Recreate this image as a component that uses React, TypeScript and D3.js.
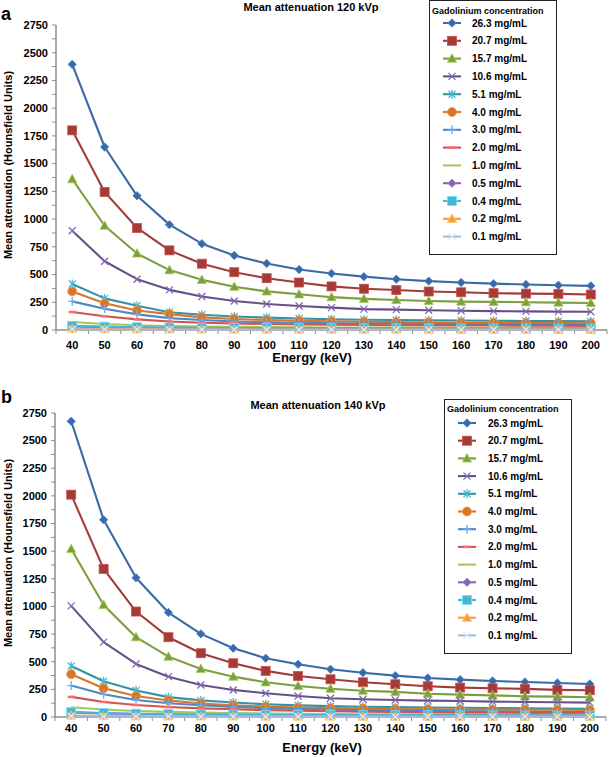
import React from "react";
import * as d3 from "d3";

const energies = [40, 50, 60, 70, 80, 90, 100, 110, 120, 130, 140, 150, 160, 170, 180, 190, 200];
const yTicks = [0, 250, 500, 750, 1000, 1250, 1500, 1750, 2000, 2250, 2500, 2750];
const concentrations = ["26.3 mg/mL", "20.7 mg/mL", "15.7 mg/mL", "10.6 mg/mL", "5.1 mg/mL", "4.0 mg/mL", "3.0 mg/mL", "2.0 mg/mL", "1.0 mg/mL", "0.5 mg/mL", "0.4 mg/mL", "0.2 mg/mL", "0.1 mg/mL"];
const colors = ["#3B69A5", "#A33B39", "#7D9E3F", "#66508A", "#3592A8", "#D4772B", "#4F86C6", "#CF5452", "#A3C760", "#8266AE", "#4BB4D4", "#F99B45", "#A9B9DD"];
const markers = ["diamond", "square", "triangle", "x", "star", "circle", "plus", "dash", "none", "diamond", "square", "triangle", "x"];

// 120 kVp
const a26_3 = [2395, 1650, 1210, 950, 778, 672, 600, 545, 510, 481, 458, 441, 428, 418, 410, 404, 398];
const a20_7 = [1800, 1245, 920, 718, 598, 521, 467, 428, 393, 372, 360, 347, 340, 332, 328, 326, 320];
const a15_7 = [1360, 940, 690, 540, 452, 390, 348, 322, 296, 281, 271, 262, 256, 254, 250, 247, 244];
const a10_6 = [895, 620, 458, 362, 302, 262, 235, 217, 202, 188, 184, 178, 173, 170, 168, 166, 165];
const a5_1 = [415, 285, 218, 160, 138, 122, 112, 104, 97, 93, 90, 87, 85, 83, 81, 80, 78];
const a4_0 = [348, 241, 176, 143, 114, 99, 90, 84, 78, 74, 71, 68, 66, 64, 63, 62, 60];
const a3_0 = [258, 192, 141, 107, 90, 77, 70, 65, 61, 58, 56, 54, 52, 51, 50, 49, 48];
const a2_0 = [162, 124, 96, 76, 66, 59, 54, 50, 47, 45, 43, 42, 41, 40, 39, 38, 37];
const a1_0 = [72, 54, 43, 36, 31, 28, 26, 24, 23, 22, 21, 20, 20, 19, 19, 18, 18];
const a0_5 = [32, 26, 22, 19, 17, 15, 14, 13, 13, 12, 12, 11, 11, 11, 10, 10, 10];
const a0_4 = [38, 30, 25, 22, 20, 18, 17, 16, 15, 15, 14, 14, 13, 13, 13, 12, 12];
const a0_2 = [10, 8, 6, 5, 5, 4, 4, 4, 3, 3, 3, 3, 3, 3, 3, 3, 3];
const a0_1 = [6, 5, 4, 3, 3, 3, 2, 2, 2, 2, 2, 2, 2, 2, 2, 2, 2];

// 140 kVp
const b26_3 = [2675, 1784, 1259, 945, 752, 622, 532, 477, 432, 401, 374, 353, 338, 326, 317, 308, 299];
const b20_7 = [2011, 1340, 954, 722, 577, 486, 417, 371, 341, 314, 296, 278, 266, 260, 254, 245, 242];
const b15_7 = [1520, 1014, 722, 546, 435, 365, 314, 281, 256, 238, 227, 211, 202, 196, 187, 184, 178];
const b10_6 = [1005, 677, 480, 365, 290, 245, 215, 190, 169, 160, 154, 148, 145, 139, 136, 133, 130];
const b5_1 = [462, 324, 240, 180, 150, 131, 115, 105, 98, 93, 89, 86, 83, 81, 79, 77, 75];
const b4_0 = [387, 260, 190, 150, 122, 106, 94, 86, 80, 76, 73, 70, 68, 67, 66, 65, 64];
const b3_0 = [284, 205, 154, 124, 106, 92, 80, 72, 66, 62, 58, 55, 52, 50, 48, 47, 45];
const b2_0 = [182, 136, 108, 90, 78, 70, 62, 56, 52, 48, 45, 42, 40, 39, 37, 36, 35];
const b1_0 = [88, 68, 54, 46, 40, 35, 32, 29, 27, 25, 24, 23, 22, 21, 20, 20, 19];
const b0_5 = [42, 33, 27, 23, 20, 18, 17, 16, 15, 14, 13, 13, 12, 12, 11, 11, 11];
const b0_4 = [45, 36, 30, 26, 23, 21, 19, 18, 17, 16, 15, 15, 14, 14, 13, 13, 13];
const b0_2 = [12, 9, 7, 6, 5, 5, 4, 4, 4, 3, 3, 3, 3, 3, 3, 3, 3];
const b0_1 = [7, 5, 4, 4, 3, 3, 3, 2, 2, 2, 2, 2, 2, 2, 2, 2, 2];

const seriesA = [a26_3, a20_7, a15_7, a10_6, a5_1, a4_0, a3_0, a2_0, a1_0, a0_5, a0_4, a0_2, a0_1];
const seriesB = [b26_3, b20_7, b15_7, b10_6, b5_1, b4_0, b3_0, b2_0, b1_0, b0_5, b0_4, b0_2, b0_1];

const FONT = "'Liberation Sans', Arial, Helvetica, sans-serif";

function Marker({ type, x, y, color }: { type: string; x: number; y: number; color: string }) {
  const light = d3.color(color)!.brighter(0.7).formatHex();
  switch (type) {
    case "diamond":
      return <path d={`M${x},${y - 4.2}L${x + 4.2},${y}L${x},${y + 4.2}L${x - 4.2},${y}Z`} fill={color} stroke={light} strokeWidth={0.8} />;
    case "square":
      return <rect x={x - 4.5} y={y - 4.5} width={9} height={9} fill={color} stroke={light} strokeWidth={0.8} />;
    case "triangle":
      return <path d={`M${x},${y - 4.8}L${x + 4.6},${y + 3.6}L${x - 4.6},${y + 3.6}Z`} fill={color} stroke={light} strokeWidth={0.8} />;
    case "circle":
      return <circle cx={x} cy={y} r={4.5} fill={color} stroke={light} strokeWidth={0.8} />;
    case "x":
      return <path d={`M${x - 3.5},${y - 3.5}L${x + 3.5},${y + 3.5}M${x - 3.5},${y + 3.5}L${x + 3.5},${y - 3.5}`} stroke={light} strokeWidth={1.3} fill="none" />;
    case "star":
      return <path d={`M${x - 3.5},${y - 3.5}L${x + 3.5},${y + 3.5}M${x - 3.5},${y + 3.5}L${x + 3.5},${y - 3.5}M${x},${y - 4.5}L${x},${y + 4.5}`} stroke={light} strokeWidth={1.3} fill="none" />;
    case "plus":
      return <path d={`M${x - 4},${y}L${x + 4},${y}M${x},${y - 4.5}L${x},${y + 4.5}`} stroke={light} strokeWidth={1.3} fill="none" />;
    case "dash":
      return <path d={`M${x - 3.5},${y}L${x + 3.5},${y}`} stroke={light} strokeWidth={2.5} fill="none" />;
    default:
      return null;
  }
}

type PanelCfg = {
  letter: string; letterY: number;
  title: string; titleX: number; titleY: number;
  x0: number; x1: number; yTop: number; y0: number;
  xTickY: number; xLabelX: number; xLabelY: number;
  yLabelX: number; yLabelY: number;
  leg: { left: number; top: number; right: number; bottom: number; titleY: number; firstY: number; step: number; lx0: number; lx1: number; tx: number };
  data: number[][];
};

function Panel({ c }: { c: PanelCfg }) {
  const x = d3.scaleBand<number>().domain(energies).range([c.x0, c.x1]).paddingInner(0).paddingOuter(0);
  const y = d3.scaleLinear().domain([0, 2750]).range([c.y0, c.yTop]);
  const cx = (e: number) => (x(e) as number) + x.bandwidth() / 2;
  const line = d3.line<number>().x((_, i) => cx(energies[i])).y((v) => y(v));
  const minor = d3.range(0, 2751, 125);
  const bounds = energies.map((e) => x(e) as number).concat([c.x1]);
  const L = c.leg;
  return (
    <g>
      <text x={1} y={c.letterY} fontSize={18} fontWeight="bold" fontFamily={FONT}>{c.letter}</text>
      <text x={c.titleX} y={c.titleY} fontSize={11} fontWeight="bold" fontFamily={FONT} textAnchor="middle">{c.title}</text>
      {/* y axis */}
      <line x1={c.x0} x2={c.x0} y1={c.yTop} y2={c.y0} stroke="#8c8c8c" strokeWidth={1.5} />
      {minor.map((t) => (
        <line key={"m" + t} x1={c.x0 - 4} x2={c.x0} y1={y(t)} y2={y(t)} stroke="#8c8c8c" strokeWidth={1} />
      ))}
      {yTicks.map((t) => (
        <text key={"yt" + t} x={c.x0 - 8} y={y(t)} dy="0.35em" fontSize={11} fontWeight="bold" fontFamily={FONT} textAnchor="end">{t}</text>
      ))}
      {/* x axis */}
      <line x1={c.x0} x2={c.x1} y1={c.y0} y2={c.y0} stroke="#8c8c8c" strokeWidth={1.5} />
      {bounds.map((b, i) => (
        <line key={"xb" + i} x1={b} x2={b} y1={c.y0} y2={c.y0 + 4} stroke="#8c8c8c" strokeWidth={1} />
      ))}
      {energies.map((e) => (
        <text key={"xt" + e} x={cx(e)} y={c.xTickY} fontSize={11} fontWeight="bold" fontFamily={FONT} textAnchor="middle">{e}</text>
      ))}
      <text x={c.xLabelX} y={c.xLabelY} fontSize={13} fontWeight="bold" fontFamily={FONT} textAnchor="middle">Energy (keV)</text>
      <text transform={`translate(${c.yLabelX},${c.yLabelY}) rotate(-90)`} fontSize={11} fontWeight="bold" fontFamily={FONT} textAnchor="middle">Mean attenuation (Hounsfield Units)</text>
      {/* series */}
      {c.data.map((vals, si) => (
        <g key={"s" + si}>
          <path d={line(vals) as string} fill="none" stroke={colors[si]} strokeWidth={2.1} strokeLinejoin="round" />
          {vals.map((v, i) => (
            <Marker key={i} type={markers[si]} x={cx(energies[i])} y={y(v)} color={colors[si]} />
          ))}
        </g>
      ))}
      {/* legend */}
      <rect x={L.left + 0.5} y={L.top + 0.5} width={L.right - L.left} height={L.bottom - L.top} fill="white" stroke="#222" strokeWidth={1} />
      <text x={L.left + 3} y={L.titleY} fontSize={9} fontWeight="bold" fontFamily={FONT}>Gadolinium concentration</text>
      {concentrations.map((name, i) => {
        const ly = L.firstY + i * L.step;
        return (
          <g key={"l" + i}>
            <line x1={L.lx0} x2={L.lx1} y1={ly} y2={ly} stroke={colors[i]} strokeWidth={2.1} />
            <Marker type={markers[i]} x={(L.lx0 + L.lx1) / 2} y={ly} color={colors[i]} />
            <text x={L.tx} y={ly} dy="0.35em" fontSize={10} fontWeight="bold" fontFamily={FONT}>{name}</text>
          </g>
        );
      })}
    </g>
  );
}

const panelA: PanelCfg = {
  letter: "a", letterY: 20,
  title: "Mean attenuation 120 kVp", titleX: 311, titleY: 11,
  x0: 56, x1: 607, yTop: 25, y0: 330,
  xTickY: 349, xLabelX: 312, xLabelY: 362,
  yLabelX: 12, yLabelY: 165,
  leg: { left: 429, top: 0, right: 556, bottom: 254, titleY: 14, firstY: 23, step: 17.8, lx0: 443, lx1: 461, tx: 472 },
  data: seriesA,
};

const panelB: PanelCfg = {
  letter: "b", letterY: 403,
  title: "Mean attenuation 140 kVp", titleX: 318, titleY: 409,
  x0: 55, x1: 606, yTop: 413, y0: 717,
  xTickY: 732, xLabelX: 322, xLabelY: 752,
  yLabelX: 12, yLabelY: 553,
  leg: { left: 444, top: 399, right: 571, bottom: 653, titleY: 412, firstY: 423, step: 17.7, lx0: 458, lx1: 476, tx: 488 },
  data: seriesB,
};

export default function App() {
  return (
    <svg width={610} height={757} style={{ position: "absolute", left: 0, top: 0, background: "white" }}>
      <rect width={610} height={757} fill="white" />
      <Panel c={panelA} />
      <Panel c={panelB} />
    </svg>
  );
}
